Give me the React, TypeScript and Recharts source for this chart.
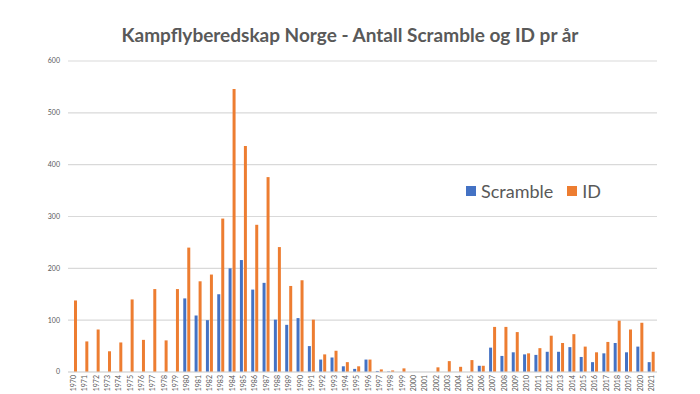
import React from 'react';
import { BarChart, Bar, XAxis, YAxis, CartesianGrid } from 'recharts';

const years = [
  '1970', '1971', '1972', '1973', '1974', '1975', '1976', '1977', '1978', '1979',
  '1980', '1981', '1982', '1983', '1984', '1985', '1986', '1987', '1988', '1989',
  '1990', '1991', '1992', '1993', '1994', '1995', '1996', '1997', '1998', '1999',
  '2000', '2001', '2002', '2003', '2004', '2005', '2006', '2007', '2008', '2009',
  '2010', '2011', '2012', '2013', '2014', '2015', '2016', '2017', '2018', '2019',
  '2020', '2021',
];

const scramble = [
  0, 0, 0, 0, 0, 0, 0, 0, 0, 0,
  142, 109, 100, 150, 200, 216, 159, 172, 101, 91,
  104, 50, 24, 28, 11, 6, 24, 2, 1, 0,
  0, 0, 0, 0, 0, 0, 12, 47, 31, 38,
  34, 33, 39, 39, 48, 29, 19, 36, 56, 38,
  49, 19,
];

const idValues = [
  138, 59, 82, 40, 57, 140, 62, 160, 61, 160,
  240, 175, 188, 296, 546, 436, 284, 376, 241, 166,
  177, 101, 34, 41, 19, 11, 24, 5, 3, 7,
  0, 0, 9, 21, 10, 23, 12, 87, 87, 77,
  36, 46, 70, 56, 73, 49, 38, 58, 99, 82,
  95, 39,
];

const yTicks = [0, 100, 200, 300, 400, 500, 600];

const data = years.map((year, i) => ({ year, Scramble: scramble[i], ID: idValues[i] }));

const textColor = '#595959';
const font = 'Lato, sans-serif';

// years are written upwards, starting just under the axis
const YearTick = (props: any) => {
  const { x, payload } = props;
  const tx = x + 2.5;
  const ty = 375;
  return (
    <text
      x={tx}
      y={ty}
      transform={`rotate(-90, ${tx}, ${ty})`}
      textAnchor="end"
      fontSize={7}
      fill={textColor}
      fontFamily={font}
    >
      {payload.value}
    </text>
  );
};

export default function App() {
  return (
    <div style={{ position: 'absolute', left: 0, top: 0, width: 700, height: 394, background: '#fff' }}>
      <div
        style={{
          position: 'absolute',
          top: 23,
          width: 700,
          textAlign: 'center',
          fontFamily: font,
          fontWeight: 'bold',
          fontSize: 19,
          lineHeight: '24px',
          color: textColor,
        }}
      >
        Kampflyberedskap Norge - Antall Scramble og ID pr år
      </div>
      <BarChart
        width={700}
        height={394}
        data={data}
        margin={{ top: 61, right: 43, left: 0, bottom: 0 }}
        barGap={1}
        barSize={3}
      >
        <CartesianGrid vertical={false} stroke="#d9d9d9" strokeWidth={1.2} />
        <XAxis
          dataKey="year"
          interval={0}
          height={22}
          tickLine={false}
          axisLine={{ stroke: '#d9d9d9' }}
          tick={<YearTick />}
        />
        <YAxis
          width={68}
          domain={[0, 600]}
          ticks={yTicks}
          tickLine={false}
          axisLine={false}
          tick={{ fontSize: 7, fill: textColor, fontFamily: font }}
        />
        <Bar dataKey="Scramble" fill="#4472C4" isAnimationActive={false} />
        <Bar dataKey="ID" fill="#ED7D31" isAnimationActive={false} />
      </BarChart>
      <div
        style={{
          position: 'absolute',
          left: 466,
          top: 180,
          display: 'flex',
          alignItems: 'center',
          fontFamily: font,
          fontSize: 18,
          color: textColor,
        }}
      >
        <span style={{ width: 10, height: 10, background: '#4472C4', display: 'inline-block', marginRight: 5 }} />
        <span style={{ marginRight: 14 }}>Scramble</span>
        <span style={{ width: 10, height: 10, background: '#ED7D31', display: 'inline-block', marginRight: 5 }} />
        <span>ID</span>
      </div>
    </div>
  );
}
